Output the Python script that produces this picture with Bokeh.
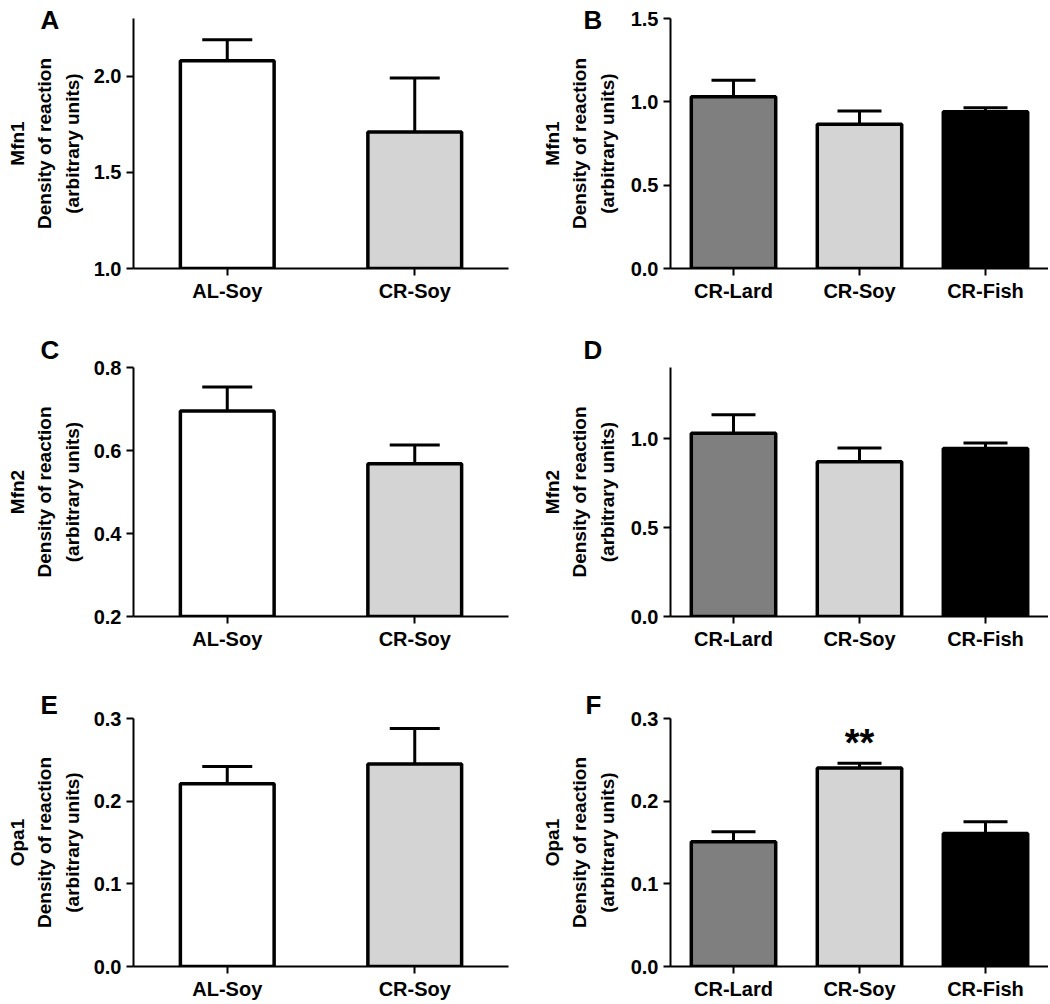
from bokeh.plotting import figure
from bokeh.layouts import gridplot
from bokeh.models import (FactorRange, Range1d, Whisker, TeeHead, ColumnDataSource,
                          FixedTicker, NumeralTickFormatter, Title)
from bokeh.embed import file_html
from bokeh.resources import INLINE
from bokeh.core.properties import value

# ---------------- data ----------------
groups_left = ["AL-Soy", "CR-Soy"]
groups_right = ["CR-Lard", "CR-Soy", "CR-Fish"]
colors_left = ["#ffffff", "#d4d4d4"]
colors_right = ["#7f7f7f", "#d4d4d4", "#000000"]

mfn1_left_mean = [2.08, 1.71]
mfn1_left_sem = [0.11, 0.28]
mfn1_right_mean = [1.03, 0.865, 0.94]
mfn1_right_sem = [0.10, 0.08, 0.025]

mfn2_left_mean = [0.695, 0.568]
mfn2_left_sem = [0.058, 0.045]
mfn2_right_mean = [1.03, 0.87, 0.945]
mfn2_right_sem = [0.105, 0.078, 0.03]

opa1_left_mean = [0.221, 0.245]
opa1_left_sem = [0.021, 0.043]
opa1_right_mean = [0.151, 0.240, 0.161]
opa1_right_sem = [0.012, 0.006, 0.014]

ticks_A = [1.0, 1.5, 2.0]
ticks_B = [0.0, 0.5, 1.0, 1.5]
ticks_C = [0.2, 0.4, 0.6, 0.8]
ticks_D = [0.0, 0.5, 1.0]
ticks_EF = [0.0, 0.1, 0.2, 0.3]

FONT = "Liberation Sans"


def make_panel(letter, protein, cats, colors, means, sems, y0, y1, ticks,
               width, height, bl, br, bt, bb, bar_w, cap, label_standoff,
               letter_offset, letter_standoff):
    p = figure(width=width, height=height, x_range=FactorRange(*cats),
               y_range=Range1d(y0, y1), output_backend="svg",
               toolbar_location=None, min_border_left=bl, min_border_right=br,
               min_border_top=bt, min_border_bottom=bb)
    p.outline_line_color = None
    p.xgrid.visible = False
    p.ygrid.visible = False

    # panel letter as a left-aligned title pulled out over the y axis area
    t = Title(text=letter, align="left", offset=letter_offset, text_font=FONT,
              text_font_style="bold", text_font_size="26px", text_color="black")
    try:
        t.standoff = letter_standoff
    except ValueError:
        t.standoff = 0
    p.add_layout(t, "above")

    src = ColumnDataSource(dict(cat=cats, mean=means,
                                upper=[m + s for m, s in zip(means, sems)],
                                color=colors))
    p.vbar(x="cat", top="mean", bottom=y0, width=bar_w, source=src,
           fill_color="color", line_color="black", line_width=3.5)
    w = Whisker(base="cat", lower="mean", upper="upper", source=src,
                line_color="black", line_width=3,
                upper_head=TeeHead(size=cap, line_width=3, line_color="black"),
                lower_head=None, level="underlay")
    p.add_layout(w)

    for ax in (p.xaxis[0], p.yaxis[0]):
        ax.axis_line_width = 2
        ax.axis_line_color = "black"
        ax.major_tick_line_width = 2
        ax.major_tick_out = 7
        ax.major_tick_in = 0
        ax.minor_tick_line_color = None
        ax.major_label_text_font = FONT
        ax.major_label_text_font_style = "bold"
        ax.major_label_text_font_size = "20px"
        ax.major_label_text_color = "black"
    p.xaxis.major_label_standoff = 4

    p.yaxis.ticker = FixedTicker(ticks=ticks)
    p.yaxis.formatter = NumeralTickFormatter(format="0.0")
    p.yaxis.axis_label = protein + "\nDensity of reaction\n(arbitrary units)"
    p.yaxis.axis_label_text_font = FONT
    p.yaxis.axis_label_text_font_style = "bold"
    p.yaxis.axis_label_text_font_size = "19px"
    p.yaxis.axis_label_text_line_height = 1.3
    p.yaxis.axis_label_text_color = "black"
    p.yaxis.axis_label_standoff = label_standoff
    return p


LW, RW = 525, 523
H1, H2, H3 = 328, 328, 346

pA = make_panel("A", "Mfn1", groups_left, colors_left, mfn1_left_mean, mfn1_left_sem,
                1.0, 2.3, ticks_A, LW, H1, 133, 17, 18, 60, 0.5, 50, 8, -93, -32)
pB = make_panel("B", "Mfn1", groups_right, colors_right, mfn1_right_mean, mfn1_right_sem,
                0.0, 1.5, ticks_B, RW, H1, 145, 0, 18, 60, 0.67, 44, 10, -87, -32)
pC = make_panel("C", "Mfn2", groups_left, colors_left, mfn2_left_mean, mfn2_left_sem,
                0.2, 0.8, ticks_C, LW, H2, 133, 17, 39, 40, 0.5, 50, 8, -93, 6)
pD = make_panel("D", "Mfn2", groups_right, colors_right, mfn2_right_mean, mfn2_right_sem,
                0.0, 1.4, ticks_D, RW, H2, 145, 0, 39, 40, 0.67, 44, 10, -87, 6)
pE = make_panel("E", "Opa1", groups_left, colors_left, opa1_left_mean, opa1_left_sem,
                0.0, 0.3, ticks_EF, LW, H3, 133, 17, 62, 34, 0.5, 50, 8, -93, -2)
pF = make_panel("F", "Opa1", groups_right, colors_right, opa1_right_mean, opa1_right_sem,
                0.0, 0.3, ticks_EF, RW, H3, 145, 0, 62, 34, 0.67, 44, 10, -85, -2)

# significance marker above CR-Soy in panel F
sig_src = ColumnDataSource(dict(x=["CR-Soy"],
                                y=[opa1_right_mean[1] + opa1_right_sem[1] + 0.024],
                                t=["**"]))
pF.text(x="x", y="y", text="t", source=sig_src, text_font=value(FONT),
        text_font_style="bold", text_font_size="38px", text_align="center",
        text_baseline="alphabetic", text_color="black")

grid = gridplot([[pA, pB], [pC, pD], [pE, pF]], toolbar_location=None)

open("out.html", "w").write(file_html(grid, INLINE))
